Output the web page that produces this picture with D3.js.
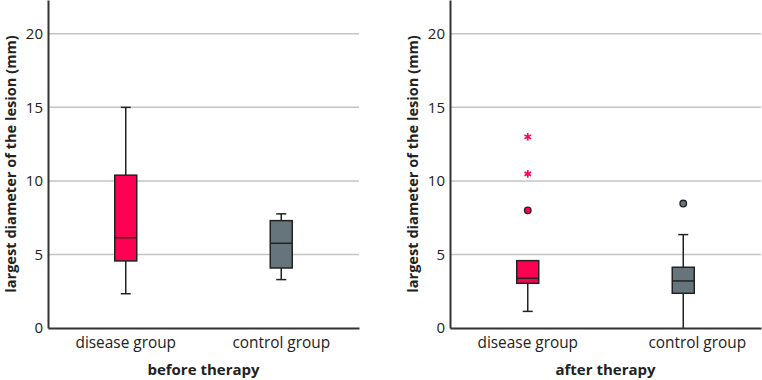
<!DOCTYPE html>
<html>
<head>
<meta charset="utf-8">
<script src="https://cdn.jsdelivr.net/npm/d3@7"></script>
<style>
  body { margin: 0; background: #fff; }
  text { font-family: "Open Sans", "Noto Sans", sans-serif; fill: #222; }
</style>
</head>
<body>
<svg id="chart" width="762" height="380"></svg>
<script>
// data
const groups = ["disease group", "control group"];
const panelTitles = ["before therapy", "after therapy"];
const yTicks = [0, 5, 10, 15, 20];
// [min whisker, Q1, median, Q3, max whisker]
const beforeStats = [[2.33, 4.56, 6.14, 10.39, 15.0], [3.29, 4.08, 5.76, 7.3, 7.76]];
const afterStats = [[1.13, 3.04, 3.38, 4.58, 4.58], [0, 2.36, 3.2, 4.13, 6.35]];
const beforeOutliers = [[], []];
const afterOutliers = [[8.0], [8.46]];
const beforeExtremes = [[], []];
const afterExtremes = [[10.48, 13.0], []];

const fills = ["#ff0052", "#66757c"];

const svg = d3.select("#chart");
const plotH = 328;

const y = d3.scaleLinear().domain([0, 22.3]).range([plotH, 0]);

const panels = [
  { x0: 48, stats: beforeStats, outliers: beforeOutliers, extremes: beforeExtremes, title: panelTitles[0], labelShift: [0, 0] },
  { x0: 450, stats: afterStats, outliers: afterOutliers, extremes: afterExtremes, title: panelTitles[1], labelShift: [0, 14] }
];

panels.forEach(p => {
  const w = 311;
  const g = svg.append("g").attr("transform", `translate(${p.x0},0)`);
  const x = d3.scaleBand().domain(groups).range([0, w]);
  const cx = d => x(d) + x.bandwidth() / 2;

  // grid
  g.selectAll(".grid").data(yTicks.filter(t => t > 0)).enter().append("line")
    .attr("x1", 0).attr("x2", w)
    .attr("y1", d => y(d)).attr("y2", d => y(d))
    .attr("stroke", "#c4c4c4").attr("stroke-width", 1.5);

  // y axis
  const ya = g.append("g").call(d3.axisLeft(y).tickValues(yTicks).tickSize(0).tickPadding(5));
  ya.select(".domain").attr("stroke", "#333").attr("stroke-width", 2);
  ya.selectAll("text").style("font-size", "15px").attr("fill", "#222");

  // x axis
  const xa = g.append("g").attr("transform", `translate(0,${plotH})`)
    .call(d3.axisBottom(x).tickSize(0).tickPadding(9));
  xa.select(".domain").attr("stroke", "#333").attr("stroke-width", 2);
  xa.selectAll("text").style("font-size", "15.4px").attr("fill", "#222")
    .attr("dx", (d, i) => p.labelShift[i]);

  // boxes
  const half = 11, cap = 5;
  groups.forEach((grp, i) => {
    const s = p.stats[i];
    const c = cx(grp);
    const bg = g.append("g");
    bg.append("line").attr("x1", c).attr("x2", c).attr("y1", y(s[0])).attr("y2", y(s[1]))
      .attr("stroke", "#222").attr("stroke-width", 1.5);
    bg.append("line").attr("x1", c).attr("x2", c).attr("y1", y(s[3])).attr("y2", y(s[4]))
      .attr("stroke", "#222").attr("stroke-width", 1.5);
    if (s[0] > 0) {
      bg.append("line").attr("x1", c - cap).attr("x2", c + cap).attr("y1", y(s[0])).attr("y2", y(s[0]))
        .attr("stroke", "#222").attr("stroke-width", 1.5);
    }
    if (s[4] > s[3]) {
      bg.append("line").attr("x1", c - cap).attr("x2", c + cap).attr("y1", y(s[4])).attr("y2", y(s[4]))
        .attr("stroke", "#222").attr("stroke-width", 1.5);
    }
    bg.append("rect").attr("x", c - half).attr("width", half * 2)
      .attr("y", y(s[3])).attr("height", y(s[1]) - y(s[3]))
      .attr("fill", fills[i]).attr("stroke", "#222").attr("stroke-width", 1.5);
    bg.append("line").attr("x1", c - half).attr("x2", c + half).attr("y1", y(s[2])).attr("y2", y(s[2]))
      .attr("stroke", "#222").attr("stroke-width", 1.5);

    bg.selectAll(".out").data(p.outliers[i]).enter().append("circle")
      .attr("cx", c).attr("cy", d => y(d)).attr("r", 3.3)
      .attr("fill", fills[i]).attr("stroke", "#222").attr("stroke-width", 1.3);

    bg.selectAll(".ext").data(p.extremes[i]).enter().append("path")
      .attr("transform", d => `translate(${c},${y(d)})`)
      .attr("d", d3.symbol(d3.symbolAsterisk, 40)())
      .attr("fill", "none").attr("stroke", fills[i]).attr("stroke-width", 1.6);
  });

  // titles
  g.append("text").attr("x", w / 2).attr("y", 375)
    .attr("text-anchor", "middle").style("font-size", "15px").style("font-weight", "bold")
    .text(p.title);
  g.append("text").attr("transform", `translate(-32,${plotH / 2}) rotate(-90)`)
    .attr("text-anchor", "middle").style("font-size", "14.6px").style("font-weight", "bold")
    .text("largest diameter of the lesion (mm)");
});
</script>
</body>
</html>
